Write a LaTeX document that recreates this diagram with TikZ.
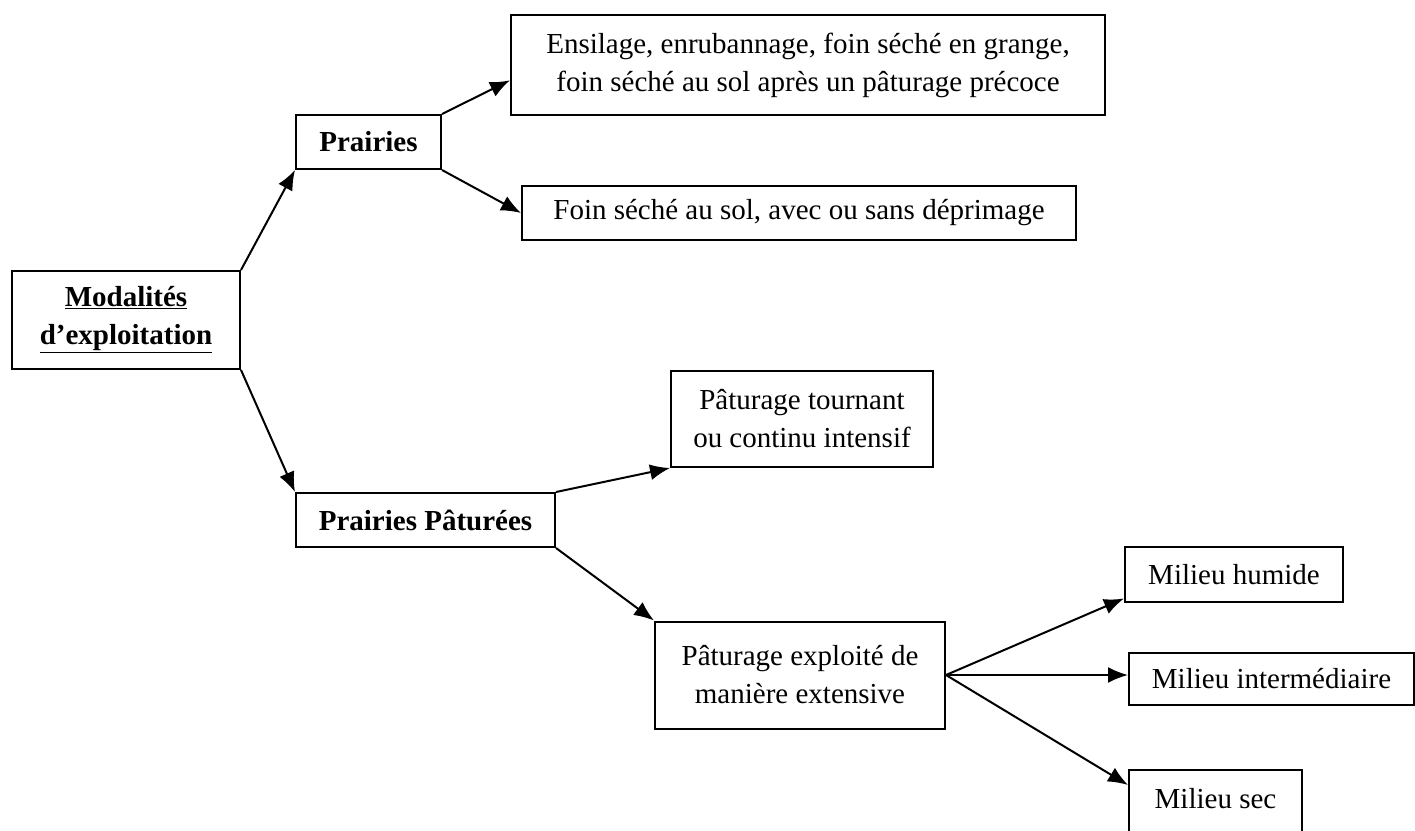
\documentclass[tikz,border=0pt]{standalone}
\usepackage{fontspec}
\setmainfont{Liberation Serif}
\usepackage{tikz}
\usetikzlibrary{arrows.meta,positioning,calc}
\tikzstyle{arrow} = [line width=2pt,-{Latex[length=20pt,width=16pt]}]
\tikzstyle{box} = [rectangle, draw, line width=2pt, inner sep=0pt, align=center, font=\fontsize{29}{38}\selectfont]

\begin{document}
\begin{tikzpicture}[x=1pt, y=-1pt]
\useasboundingbox (0,0) rectangle (1415,830);
% Modalites
\node[box, minimum width=228pt, minimum height=98pt, font=\fontsize{29}{38}\selectfont\bfseries] (mod) at (126,320) {\underline{Modalités}\\\underline{d’exploitation}};

% Prairies
\node[box, minimum width=145pt, minimum height=54pt, font=\fontsize{29}{38}\selectfont\bfseries] (prai) at (368.5,142) {Prairies};
\node[box, minimum width=594pt, minimum height=100pt] (ens) at (808,65) {Ensilage, enrubannage, foin séché en grange,\\foin séché au sol après un pâturage précoce};
\node[box, minimum width=554pt, minimum height=54pt] (foin) at (799,213) {Foin séché au sol, avec ou sans déprimage};

% Prairies Paturees
\node[box, minimum width=259pt, minimum height=54pt, font=\fontsize{29}{38}\selectfont\bfseries] (pp) at (425.5,520) {Prairies Pâturées};
\node[box, minimum width=262pt, minimum height=96pt] (tour) at (802,419) {Pâturage tournant\\ou continu intensif};
\node[box, minimum width=290pt, minimum height=107pt] (expl) at (800,675) {Pâturage exploité de\\manière extensive};

% Milieux
\node[box, minimum width=218pt, minimum height=55pt] (hum) at (1234,574.5) {Milieu humide};
\node[box, minimum width=285pt, minimum height=52pt] (int) at (1271.5,679) {Milieu intermédiaire};
\node[box, minimum width=173pt, anchor=north, text height=38pt, text depth=40pt] (sec) at (1215.5,769) {Milieu sec};

% Arrows
\draw[arrow] (mod.north east) -- (prai.south west);
\draw[arrow] (mod.south east) -- (pp.north west);
\draw[arrow] (prai.north east) -- ($(ens.south west)!0.35!(ens.north west)$);
\draw[arrow] (prai.south east) -- (foin.west);
\draw[arrow] (pp.north east) -- (tour.south west);
\draw[arrow] (pp.south east) -- (expl.north west);
\draw[arrow] (expl.east) -- ($(hum.south west)!0.08!(hum.north west)$);
\draw[arrow] (expl.east) -- (expl.east -| int.west);
\draw[arrow] (expl.east) -- ($(sec.north west)+(0,16)$);
\end{tikzpicture}
\end{document}
